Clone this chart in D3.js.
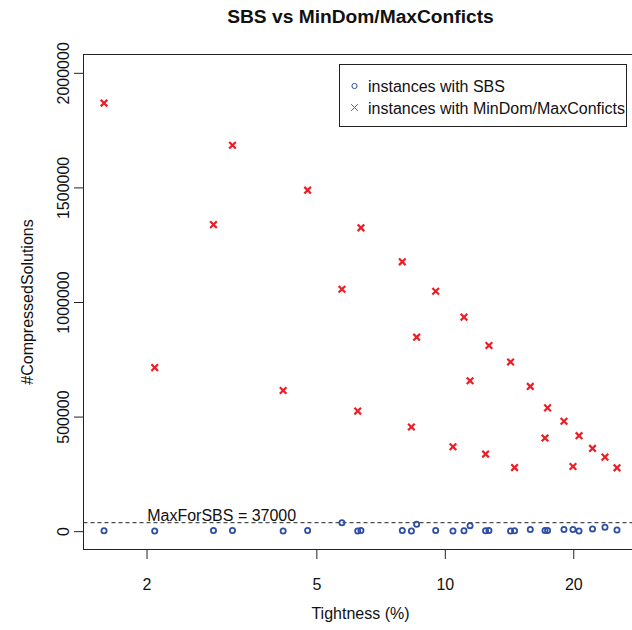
<!DOCTYPE html>
<html>
<head>
<meta charset="utf-8">
<script src="https://cdn.jsdelivr.net/npm/d3@7"></script>
<style>
  body { margin: 0; background: #fff; }
  svg { display: block; }
  text { font-family: "Liberation Sans", Arial, sans-serif; fill: #111; }
</style>
</head>
<body>
<div id="chart"></div>
<script>
// Tightness (%) of each instance, shared by both series
const tightness = [1.59, 2.09, 2.87, 3.18, 4.18, 4.77, 5.74, 6.25, 6.36, 7.95,
  8.35, 8.59, 9.52, 10.45, 11.09, 11.46, 12.46, 12.69, 14.26, 14.57,
  15.86, 17.17, 17.41, 19.02, 19.97, 20.63, 22.19, 23.73, 25.32];

// #CompressedSolutions with SBS
const sbsSolutions = [2000, 1000, 3000, 3000, 500, 3000, 37000, 500, 3000, 3000,
  500, 30000, 3000, 500, 1500, 24000, 1500, 3000, 500, 1500,
  7000, 3000, 3000, 7000, 7000, 1000, 10000, 17000, 5000];

// #CompressedSolutions with MinDom/MaxConficts
const minDomSolutions = [1868000, 713600, 1337700, 1684000, 614000, 1488000, 1055700, 524000, 1323700, 1175400,
  454700, 846500, 1047000, 368400, 934000, 656400, 336400, 810000, 738000, 277600,
  631600, 406400, 538000, 479500, 282000, 416700, 361000, 323000, 276300];

const xTicks = [2, 5, 10, 20];
const yTicks = [0, 500000, 1000000, 1500000, 2000000];
const yLimits = [0, 2000000];
const maxForSBS = 37000;
const legendLabels = ["instances with SBS", "instances with MinDom/MaxConficts"];

const config = {
  width: 632,
  height: 630,
  plot: { left: 83.5, top: 54.5, right: 637.5, bottom: 549.5 },
  blue: "#2f4fa6",
  red: "#ee1c24",
};

const svg = d3.select("#chart")
  .append("svg")
  .attr("width", config.width)
  .attr("height", config.height);

// R style 4% padding on the log x range and on the y limits
const logExt = d3.extent(tightness).map(Math.log10);
const lpad = (logExt[1] - logExt[0]) * 0.04;
const x = d3.scaleLog()
  .domain([Math.pow(10, logExt[0] - lpad), Math.pow(10, logExt[1] + lpad)])
  .range([config.plot.left, config.plot.right]);

const ypad = (yLimits[1] - yLimits[0]) * 0.04;
const y = d3.scaleLinear()
  .domain([yLimits[0] - ypad, yLimits[1] + ypad])
  .range([config.plot.bottom, config.plot.top]);

// x axis
const xAxis = svg.append("g")
  .attr("transform", `translate(0,${config.plot.bottom})`)
  .call(d3.axisBottom(x).tickValues(xTicks).tickFormat(d3.format("d"))
    .tickSizeOuter(0).tickSize(9.5).tickPadding(19.5));
xAxis.select(".domain").remove();
xAxis.selectAll("line").attr("stroke", "#222");
xAxis.selectAll("text").attr("font-size", 16).attr("fill", "#111")
  .style("font-family", "'Liberation Sans', Arial, sans-serif");

// y axis, labels parallel to the axis
const yAxis = svg.append("g")
  .attr("transform", `translate(${config.plot.left},0)`)
  .call(d3.axisLeft(y).tickValues(yTicks).tickFormat(d3.format("d"))
    .tickSizeOuter(0).tickSize(9.5));
yAxis.select(".domain").remove();
yAxis.selectAll("line").attr("stroke", "#222");
yAxis.selectAll("text")
  .attr("x", null).attr("dy", null)
  .attr("text-anchor", "middle")
  .attr("transform", "translate(-15,0) rotate(-90)")
  .attr("font-size", 16).attr("fill", "#111")
  .style("font-family", "'Liberation Sans', Arial, sans-serif");

// plot box (right edge falls just outside the window)
svg.append("rect")
  .attr("x", config.plot.left)
  .attr("y", config.plot.top)
  .attr("width", config.plot.right - config.plot.left)
  .attr("height", config.plot.bottom - config.plot.top)
  .attr("fill", "none")
  .attr("stroke", "#222");

// threshold line + label
svg.append("line")
  .attr("x1", config.plot.left).attr("x2", config.plot.right)
  .attr("y1", y(maxForSBS)).attr("y2", y(maxForSBS))
  .attr("stroke", "#222")
  .attr("stroke-dasharray", "4,3");

svg.append("text")
  .attr("x", x(3))
  .attr("y", y(maxForSBS) - 2)
  .attr("text-anchor", "middle")
  .attr("font-size", 16)
  .text(`MaxForSBS = ${maxForSBS}`);

// SBS points (open circles)
svg.append("g")
  .selectAll("circle")
  .data(tightness)
  .join("circle")
  .attr("cx", (d) => x(d))
  .attr("cy", (d, i) => y(sbsSolutions[i]))
  .attr("r", 2.6)
  .attr("fill", "none")
  .attr("stroke", config.blue)
  .attr("stroke-width", 1.8);

// MinDom/MaxConficts points (crosses)
const cross = (s) => `M${-s},${-s}L${s},${s}M${-s},${s}L${s},${-s}`;
svg.append("g")
  .selectAll("path")
  .data(tightness)
  .join("path")
  .attr("transform", (d, i) => `translate(${x(d)},${y(minDomSolutions[i])})`)
  .attr("d", cross(3.3))
  .attr("fill", "none")
  .attr("stroke", config.red)
  .attr("stroke-width", 2.2);

// titles
svg.append("text")
  .attr("x", (config.plot.left + config.plot.right) / 2)
  .attr("y", 23)
  .attr("text-anchor", "middle")
  .attr("font-size", 19.2)
  .attr("font-weight", "bold")
  .text("SBS vs MinDom/MaxConficts");

svg.append("text")
  .attr("x", (config.plot.left + config.plot.right) / 2)
  .attr("y", 619)
  .attr("text-anchor", "middle")
  .attr("font-size", 16)
  .text("Tightness (%)");

svg.append("text")
  .attr("transform", `translate(33,${(config.plot.top + config.plot.bottom) / 2}) rotate(-90)`)
  .attr("text-anchor", "middle")
  .attr("font-size", 16)
  .text("#CompressedSolutions");

// legend
const legend = svg.append("g").attr("class", "legend");
legend.append("rect")
  .attr("x", 339.5).attr("y", 64.5)
  .attr("width", 287).attr("height", 62)
  .attr("fill", "#fff")
  .attr("stroke", "#222");

legend.append("circle")
  .attr("cx", 354.5).attr("cy", 86)
  .attr("r", 2.6)
  .attr("fill", "none")
  .attr("stroke", config.blue);

legend.append("path")
  .attr("transform", "translate(354.5,107.5)")
  .attr("d", cross(3.3))
  .attr("fill", "none")
  .attr("stroke", config.red);

legend.selectAll(".legend-label")
  .data(legendLabels)
  .join("text")
  .attr("class", "legend-label")
  .attr("x", 368)
  .attr("y", (d, i) => 92 + i * 21.6)
  .attr("font-size", 16)
  .text((d) => d);
</script>
</body>
</html>
